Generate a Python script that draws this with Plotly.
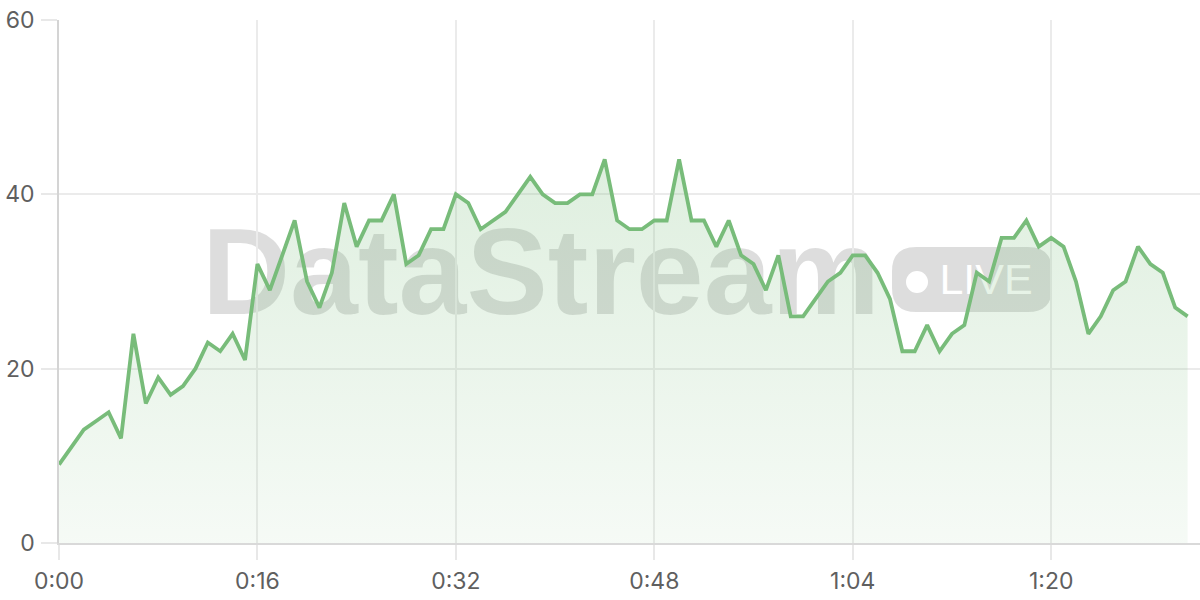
import plotly.graph_objects as go

# ---- data ----
seconds = list(range(92))
values = [9, 11, 13, 14, 15, 12, 24, 16, 19, 17,
          18, 20, 23, 22, 24, 21, 32, 29, 33, 37,
          30, 27, 31, 39, 34, 37, 37, 40, 32, 33,
          36, 36, 40, 39, 36, 37, 38, 40, 42, 40,
          39, 39, 40, 40, 44, 37, 36, 36, 37, 37,
          44, 37, 37, 34, 37, 33, 32, 29, 33, 26,
          26, 28, 30, 31, 33, 33, 31, 28, 22, 22,
          25, 22, 24, 25, 31, 30, 35, 35, 37, 34,
          35, 34, 30, 24, 26, 29, 30, 34, 32, 31,
          27, 26]
x_tickvals = [0, 16, 32, 48, 64, 80]
x_ticktext = ["0:00", "0:16", "0:32", "0:48", "1:04", "1:20"]
y_tickvals = [0, 20, 40, 60]
watermark_text = "DataStream"
badge_text = "LIVE"

# ---- layout geometry (pixels) ----
W, H = 1200, 600
L, R, T, B = 59, 0, 20, 57
PW, PH = W - L - R, H - T - B


def px(p):
    return (p - L) / PW


def py(p):
    return (H - B - p) / PH


LINE = "rgb(120,188,122)"
WM = "rgba(0,0,0,0.135)"

fig = go.Figure()
fig.add_trace(go.Scatter(
    x=seconds, y=values, mode="lines",
    line=dict(color=LINE, width=3.8),
    fill="tozeroy",
    fillgradient=dict(type="vertical",
                      colorscale=[[0, "rgba(120,188,122,0.07)"],
                                  [1, "rgba(120,188,122,0.24)"]]),
    hoverinfo="skip", showlegend=False,
))

shapes = []
# watermark word
shapes.append(dict(
    type="rect", xref="paper", yref="paper", layer="below",
    x0=px(198), x1=px(884), y0=py(300), y1=py(220),
    line=dict(width=0), fillcolor="rgba(0,0,0,0)",
    label=dict(text=watermark_text, textposition="middle center",
               font=dict(family="Liberation Sans", size=122, color=WM, weight=700)),
))
# badge rounded rect
bx0, bx1, by0, by1 = px(892), px(1052), py(312), py(247)
rx, ry = 24 / PW, 24 / PH
path = (f"M {bx0+rx},{by0} L {bx1-rx},{by0} Q {bx1},{by0} {bx1},{by0+ry} "
        f"L {bx1},{by1-ry} Q {bx1},{by1} {bx1-rx},{by1} L {bx0+rx},{by1} "
        f"Q {bx0},{by1} {bx0},{by1-ry} L {bx0},{by0+ry} Q {bx0},{by0} {bx0+rx},{by0} Z")
shapes.append(dict(type="path", xref="paper", yref="paper", layer="below",
                   path=path, fillcolor=WM, line=dict(width=0)))
# badge dot
shapes.append(dict(type="circle", xref="paper", yref="paper", layer="below",
                   x0=px(906), x1=px(928), y0=py(293), y1=py(271),
                   fillcolor="white", line=dict(width=0)))
# badge text
shapes.append(dict(
    type="rect", xref="paper", yref="paper", layer="below",
    x0=px(934), x1=px(1038), y0=py(294), y1=py(255),
    line=dict(width=0), fillcolor="rgba(0,0,0,0)",
    label=dict(text=badge_text, textposition="middle center",
               font=dict(family="Liberation Sans", size=43, color="white")),
))

fig.update_layout(
    width=W, height=H,
    margin=dict(l=L, r=R, t=T, b=B, pad=0, autoexpand=False),
    paper_bgcolor="white", plot_bgcolor="white",
    font=dict(family="Inter", size=23, color="#5f5f5f"),
    shapes=shapes,
    showlegend=False,
)
fig.update_xaxes(
    range=[0, 92], tickvals=x_tickvals, ticktext=x_ticktext,
    showgrid=True, gridcolor="#ebebeb", gridwidth=1.5,
    ticks="outside", ticklen=15, tickcolor="#e8e8e8", tickwidth=1.5,
    showline=True, linecolor="#d9d9d9", linewidth=1.5,
    zeroline=False, fixedrange=True, automargin=False,
    ticklabelstandoff=2,
)
fig.update_yaxes(
    range=[0, 60], tickvals=y_tickvals,
    showgrid=True, gridcolor="#ebebeb", gridwidth=1.5,
    ticks="outside", ticklen=16, tickcolor="#e8e8e8", tickwidth=1.5,
    showline=True, linecolor="#d4d4d4", linewidth=1.5,
    zeroline=False, fixedrange=True, automargin=False,
    ticklabelstandoff=2,
)

fig.write_html(
    "out.html",
    config={"displayModeBar": False},
    post_script="document.body.style.margin='0';document.body.style.overflow='hidden';",
)
